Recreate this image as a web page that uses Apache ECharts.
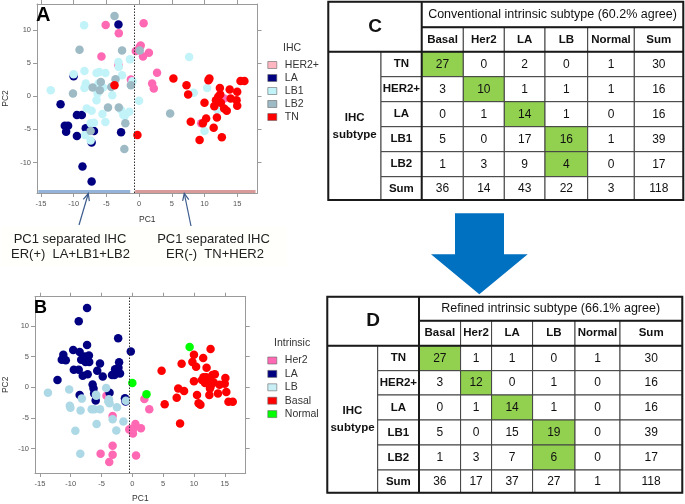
<!DOCTYPE html>
<html>
<head>
<meta charset="utf-8">
<script src="https://cdn.jsdelivr.net/npm/echarts@6/dist/echarts.min.js"></script>
<style>html,body{margin:0;padding:0;background:#fff}#c{width:685px;height:504px}</style>
</head>
<body>
<div id="c"></div>
<script>
// ---------------- DATA ----------------
// Panel A: PCA coloured by IHC subtype [PC1, PC2]
const ihcHER2 = [[-5.1,10.75],[-3.1,9.5],[0.7,11],[-5.75,6],[-3.15,4.65],[-1.25,2.5],[0.25,7.65],[-0.5,6.8],[0.6,6.0],[1.5,6.55],[2.75,3.55],[2.0,1.9],[2.25,1.15],[13,-0.35],[9.5,-4.1],[0.1,7.4]];
const ihcLA = [[-3.15,10.8],[-10,3.0],[-12,-1.2],[-9.5,-2.85],[-8.75,-2.85],[-11.35,-4.45],[-10.85,-4.45],[-11.15,-5.35],[-9.5,-6.0],[-8.15,-4.85],[-6.9,-5.25],[-7.25,-7.0],[-2.75,-5.45],[-8.65,-10.6],[-7.25,-12.85]];
const ihcLB1 = [[-13.5,0.9],[-8.4,10.7],[-10,3.3],[-8.35,3.8],[-8.15,1.9],[-8.35,1.25],[-6.5,3.5],[-6.1,3.65],[-5.15,3.5],[-6.35,0.4],[-6.5,-0.6],[-5.5,1.3],[-4.1,0.15],[-3.15,5.15],[-1.4,5.55],[-2.6,3.15],[-1.0,2.25],[0,-0.7],[-8,-1.85],[-7.25,-2.2],[-5.6,-2.7],[-5.15,-3.9],[-7.4,-4.1],[-6.9,-4.0],[-8.25,-5.85],[-7.4,-6.7],[-2.75,-2.1],[-2.4,-2.85],[-1.5,-2.35],[-2.2,-3.0],[7.65,5.9],[8.35,0.5],[10.4,1.25],[10,-5.25],[12,-2.1],[-3.1,4.4],[-6.2,1.9]];
const ihcLB2 = [[-3.75,12.1],[-9.1,7.0],[-2.6,6.9],[0.1,6.9],[-10.1,0.4],[-7.1,1.3],[-5.85,2.15],[-6,0.9],[-4.25,1.4],[-3.6,2.55],[-1.25,1.65],[-4.75,-1.7],[-3.1,-1.7],[-2.1,-4.1],[-7.4,-5.25],[-2.25,-7.95],[4.75,-2.6]];
const ihcTN = [[-3.75,1.65],[-0.25,-5.85],[5.25,2.65],[7.25,1.65],[7.5,0.25],[10.75,2.65],[12.35,1.25],[12.4,0.25],[13.85,1.0],[15,0.65],[15.5,2.3],[16.1,2.3],[14,-0.35],[14.9,-0.6],[15,-1.45],[10,-1.0],[11.75,-0.6],[11.5,-1.5],[12.5,-1.0],[13,-1.85],[13.4,-2.2],[10.25,-3.35],[11.9,-3.2],[7.9,-3.85],[9.75,-4.1],[11.4,-4.75],[12.65,-6.2],[9.25,-6.6],[12.1,-0.1],[10.6,2.4]];

// Panel B: PCA coloured by refined intrinsic subtype
const intHer2 = [[-4.2,-1.4],[-3.2,-4.7],[-5.15,-10.85],[-3.2,-9.55],[-3.2,-11.0],[-3.75,-12.2],[-0.5,-6.9],[0.1,-7.55],[0.5,-6.0],[1.4,-6.7],[1.95,-1.9],[2.75,-3.6],[0.6,-11.15],[0.1,-6.9],[-0.3,-6.8]];
const intLA = [[-7.35,12.95],[-8.7,10.8],[-2.3,8.0],[-0.25,5.85],[-12.15,1.2],[-11.2,5.3],[-11.45,4.5],[-10.8,4.4],[-9.6,6.1],[-8.55,5.75],[-7.75,5.05],[-7.05,5.2],[-7.35,6.9],[-8.3,4.5],[-7.6,4.15],[-7.0,4.15],[-9.5,2.85],[-8.7,2.85],[-8.05,1.9],[-7.25,2.15],[-5.7,2.7],[-5.25,3.9],[-4.8,1.75],[-6.45,0.45],[-6.3,-0.2],[-8.55,-1.25],[-5.95,-2.15],[-3.7,-0.9],[-2.8,2.95],[-2.15,4.1],[-2.25,3.2],[-3.3,2.0],[-2.9,2.0],[-2.0,2.25],[-1.2,-1.8],[-1.1,-2.3],[-6.2,-1.0]];
const intLB = [[-13.7,-0.9],[-10.25,-0.35],[-10.15,-3.0],[-10.05,-3.35],[-8.4,-3.8],[-8.2,-1.85],[-9.25,-7.1],[-8.45,-10.85],[-5.85,-1.4],[-6.6,-3.6],[-6.2,-3.6],[-5.25,-3.6],[-5.8,-6.0],[-4.25,-0.1],[-3.8,-1.95],[-3.7,-2.6],[-2.5,-3.25],[-3.2,-5.2],[-1.45,-5.6],[-2.6,-7.05],[-1.05,-2.2],[-5.9,-1.2],[-3.9,-2.3]];
const intBasal = [[12.7,6.25],[10.0,5.3],[11.5,4.8],[8.0,3.85],[9.75,4.15],[10.35,3.35],[12.05,3.2],[4.75,2.7],[13.4,2.15],[13.0,2.0],[11.55,1.65],[10,1.0],[12.0,1.65],[11.8,0.7],[12.5,1.1],[12.7,0.15],[14.15,0.4],[15.1,1.5],[15.0,0.6],[12.6,-0.2],[12.5,-1.25],[13.9,-1.0],[15.25,-0.75],[7.45,-0.2],[8.4,-0.6],[7.2,-1.7],[10.5,-1.25],[10.75,-2.6],[11.05,-2.85],[5.25,-2.75],[15.6,-2.35],[16.3,-2.35],[7.75,-5.9],[11.3,1.2],[13.2,0.8]];
const intNormal = [[9.3,6.6],[0,0.7],[2.3,-1.15]];

const pc1Ticks = [-15,-10,-5,0,5,10,15];
const pc2Ticks = [-10,-5,0,5,10];
const pc1SplitA = -0.75, pc1SplitB = -0.45;

// Tables C and D
const tableCols = ['Basal','Her2','LA','LB','Normal','Sum'];
const ihcRows = ['TN','HER2+','LA','LB1','LB2','Sum'];
const conventional = [[27,0,2,0,1,30],[3,10,1,1,1,16],[0,1,14,1,0,16],[5,0,17,16,1,39],[1,3,9,4,0,17],[36,14,43,22,3,118]];
const refined = [[27,1,1,0,1,30],[3,12,0,1,0,16],[0,1,14,1,0,16],[5,0,15,19,0,39],[1,3,7,6,0,17],[36,17,37,27,1,118]];
const agreeCells = [[0,0],[1,1],[2,2],[3,3],[4,3]]; // [row, col]

// ---------------- LAYOUT ----------------
const FONT = 'Liberation Sans, Arial, sans-serif';
const gridA = {left:32.3, top:4, width:225.2, height:189};
const gridB = {left:29.3, top:296.7, width:216.4, height:182.3};
const rangeA = {x:[-15.6,18.1], y:[-14.6,13.9]};
const rangeB = {x:[-15.8,18.4], y:[-14.0,14.8]};
const tabC = {left:328.3, top:1.7, width:355, height:198.3,
  cols:[0,52.7,93.4,135,176,216.7,259.4,306,355], rows:[0,25.6,50,75,100,125,150,175,198.3]};
const tabD = {left:327.3, top:296.7, width:355, height:196,
  cols:[0,50.4,91.7,133.3,164.3,205.3,247.7,292.7,355], rows:[0,24,49,74,98.3,123.3,148.3,173.3,196]};

const frameColor = '#9a9a9a';

function plotAxes(gi, range, nameGapX, nameGapY) {
  const tickCommon = {show:true, inside:false, length:4, lineStyle:{color:frameColor, width:1}};
  const lineCommon = {show:true, onZero:false, lineStyle:{color:frameColor, width:1}};
  return {
    x: [
      {gridIndex:gi, type:'value', position:'bottom', min:range.x[0], max:range.x[1],
       axisLine:lineCommon, axisTick:Object.assign({customValues:pc1Ticks}, tickCommon),
       axisLabel:{customValues:pc1Ticks, fontSize:7.5, color:'#555', margin:7, fontFamily:FONT},
       splitLine:{show:false}, name:'PC1', nameLocation:'middle', nameGap:nameGapX,
       nameTextStyle:{fontSize:8.5, color:'#333', fontFamily:FONT}},
      {gridIndex:gi, type:'value', position:'top', min:range.x[0], max:range.x[1],
       axisLine:lineCommon, axisTick:Object.assign({customValues:pc1Ticks}, tickCommon),
       axisLabel:{show:false}, splitLine:{show:false}}
    ],
    y: [
      {gridIndex:gi, type:'value', position:'left', min:range.y[0], max:range.y[1],
       axisLine:lineCommon, axisTick:Object.assign({customValues:pc2Ticks}, tickCommon),
       axisLabel:{customValues:pc2Ticks, fontSize:7.5, color:'#555', margin:6, fontFamily:FONT},
       splitLine:{show:false}, name:'PC2', nameLocation:'middle', nameGap:nameGapY,
       nameTextStyle:{fontSize:8.5, color:'#333', fontFamily:FONT}},
      {gridIndex:gi, type:'value', position:'right', min:range.y[0], max:range.y[1],
       axisLine:lineCommon, axisTick:Object.assign({customValues:pc2Ticks}, tickCommon),
       axisLabel:{show:false}, splitLine:{show:false}}
    ]
  };
}

const axA = plotAxes(0, rangeA, 22, 27);
const axB = plotAxes(1, rangeB, 21, 25);

function tableAxes(gi) {
  return {
    x:{gridIndex:gi, type:'value', min:0, max:355, show:false},
    y:{gridIndex:gi, type:'value', min:0, max:200, inverse:true, show:false}
  };
}
const axC = tableAxes(2), axD = tableAxes(3);
axC.y.max = tabC.height; axD.y.max = tabD.height;

const xAxes = [axA.x[0], axA.x[1], axB.x[0], axB.x[1], axC.x, axD.x];
const yAxes = [axA.y[0], axA.y[1], axB.y[0], axB.y[1], axC.y, axD.y];

function scatter(name, data, color, xi, yi, extra) {
  return Object.assign({
    type:'scatter', name, data, xAxisIndex:xi, yAxisIndex:yi,
    symbol:'circle', symbolSize:8.5, itemStyle:{color, opacity:1}, emphasis:{disabled:true}
  }, extra || {});
}

function vline(x) {
  return {silent:true, symbol:'none', label:{show:false},
    lineStyle:{color:'#333', type:[1.5,1.5], width:1}, data:[{xAxis:x}]};
}

// Tables
const BOLD = 'bold 11.5px ' + FONT;
const NUM = '12px ' + FONT;
function buildCells(letter, title, matrix) {
  const cells = [];
  cells.push({c:[0,2], r:[0,2], text:letter, font:'bold 19px ' + FONT});
  cells.push({c:[2,8], r:[0,1], text:title, font:'12.5px ' + FONT});
  tableCols.forEach((n, j) => cells.push({c:[2+j,3+j], r:[1,2], text:n, font:BOLD}));
  cells.push({c:[0,1], r:[2,8], text:'IHC\nsubtype', font:BOLD});
  ihcRows.forEach((n, i) => {
    cells.push({c:[1,2], r:[2+i,3+i], text:n, font:BOLD});
    matrix[i].forEach((v, j) => {
      const agree = agreeCells.some(a => a[0] === i && a[1] === j);
      cells.push({c:[2+j,3+j], r:[2+i,3+i], text:String(v), font:NUM, fill: agree ? '#92D050' : '#fff'});
    });
  });
  cells.push({frame:true, c:[0,8], r:[0,8]});
  return cells;
}

function tableSeries(cells, lay, xi, yi) {
  return {
    type:'custom', xAxisIndex:xi, yAxisIndex:yi, clip:false, silent:true,
    data: cells.map(c => [c.c[0], c.r[0]]),
    renderItem: function (params, api) {
      const cell = cells[params.dataIndex];
      const P = (ci, ri) => api.coord([lay.cols[ci], lay.rows[ri]]);
      if (cell.frame) {
        const tl = P(0,0), br = P(8,8);
        const l = (a, b) => ({type:'line', shape:{x1:a[0], y1:a[1], x2:b[0], y2:b[1]}, style:{stroke:'#1a1a1a', lineWidth:2}});
        return {type:'group', children:[
          {type:'rect', shape:{x:tl[0], y:tl[1], width:br[0]-tl[0], height:br[1]-tl[1]}, style:{fill:'none', stroke:'#1a1a1a', lineWidth:2}},
          l(P(0,2), P(8,2)),
          l(P(2,1), P(8,1)),
          l(P(2,0), P(2,8))
        ]};
      }
      const p0 = P(cell.c[0], cell.r[0]);
      const p1 = P(cell.c[1], cell.r[1]);
      return {type:'group', children:[
        {type:'rect', shape:{x:p0[0], y:p0[1], width:p1[0]-p0[0], height:p1[1]-p0[1]},
         style:{fill:cell.fill || '#fff', stroke:'#404040', lineWidth:1}},
        {type:'text', style:{x:(p0[0]+p1[0])/2, y:(p0[1]+p1[1])/2, text:cell.text, font:cell.font,
         fill:'#111', align:'center', verticalAlign:'middle', lineHeight:17}}
      ]};
    }
  };
}

function arrow(x0, y0, x1, y1) {
  const dx = x1 - x0, dy = y1 - y0, L = Math.hypot(dx, dy);
  const ux = dx / L, uy = dy / L, a = 7, s = 0.45;
  const bx = x1 - ux * a, by = y1 - uy * a;
  const px = -uy * a * s, py = ux * a * s;
  const st = {stroke:'#3b5c8c', lineWidth:1.2, fill:'none'};
  return [
    {type:'line', shape:{x1:x0, y1:y0, x2:x1, y2:y1}, style:st, z:50},
    {type:'polyline', shape:{points:[[bx+px, by+py],[x1, y1],[bx-px, by-py]]}, style:st, z:50}
  ];
}

const annText = {fontSize:13, fill:'#222', fontFamily:FONT, align:'center', verticalAlign:'middle'};

const option = {
  animation:false,
  backgroundColor:'#fff',
  grid:[
    Object.assign({containLabel:false}, gridA),
    Object.assign({containLabel:false}, gridB),
    {left:tabC.left, top:tabC.top, width:tabC.width, height:tabC.height},
    {left:tabD.left, top:tabD.top, width:tabD.width, height:tabD.height}
  ],
  xAxis: xAxes,
  yAxis: yAxes,
  title:[
    {text:'A', left:36, top:5, padding:0, textStyle:{fontSize:20, fontWeight:'bold', color:'#000', fontFamily:FONT}},
    {text:'B', left:34, top:299, padding:0, textStyle:{fontSize:18, fontWeight:'bold', color:'#000', fontFamily:FONT}},
    {text:'IHC', left:283, top:43, padding:0, textStyle:{fontSize:10.5, fontWeight:'normal', color:'#333', fontFamily:FONT}},
    {text:'Intrinsic', left:274, top:338, padding:0, textStyle:{fontSize:10.5, fontWeight:'normal', color:'#333', fontFamily:FONT}}
  ],
  legend:[
    {orient:'vertical', left:267.5, top:59, padding:0, itemGap:1, itemWidth:9, itemHeight:7, icon:'rect',
     textStyle:{fontSize:10.5, color:'#333', fontFamily:FONT, lineHeight:12, padding:[0,0,0,3]},
     selectedMode:false,
     data:[
       {name:'HER2+', itemStyle:{color:'#FFB6C1', borderColor:'#666', borderWidth:0.6}},
       {name:'LA', itemStyle:{color:'#000080', borderColor:'#666', borderWidth:0.6}},
       {name:'LB1', itemStyle:{color:'#C2F3F9', borderColor:'#666', borderWidth:0.6}},
       {name:'LB2', itemStyle:{color:'#9DBAC5', borderColor:'#666', borderWidth:0.6}},
       {name:'TN', itemStyle:{color:'#FF0000', borderColor:'#666', borderWidth:0.6}}
     ]},
    {orient:'vertical', left:267.5, top:354.5, padding:0, itemGap:1.4, itemWidth:9, itemHeight:7, icon:'rect',
     textStyle:{fontSize:10.5, color:'#333', fontFamily:FONT, lineHeight:12, padding:[0,0,0,3]},
     selectedMode:false,
     data:[
       {name:'Her2', itemStyle:{color:'#FF69B4', borderColor:'#666', borderWidth:0.6}},
       {name:'LA', itemStyle:{color:'#000080', borderColor:'#666', borderWidth:0.6}},
       {name:'LB', itemStyle:{color:'#C8EEF6', borderColor:'#666', borderWidth:0.6}},
       {name:'Basal', itemStyle:{color:'#FF0000', borderColor:'#666', borderWidth:0.6}},
       {name:'Normal', itemStyle:{color:'#00FF00', borderColor:'#666', borderWidth:0.6}}
     ]}
  ],
  series:[
    scatter('HER2+', ihcHER2, '#FF69B4', 0, 0, {markLine: vline(pc1SplitA)}),
    scatter('LA', ihcLA, '#000080', 0, 0),
    scatter('LB1', ihcLB1, '#C2F3F9', 0, 0),
    scatter('LB2', ihcLB2, '#9DBAC5', 0, 0),
    scatter('TN', ihcTN, '#FF0000', 0, 0, {
      markLine:{silent:true, symbol:'none', label:{show:false}, data:[
        [{coord:[-15.4,-14.3], lineStyle:{color:'#94B3D8', width:3, type:'solid'}}, {coord:[-1.35,-14.3]}],
        [{coord:[-0.6,-14.3], lineStyle:{color:'#D99A9A', width:3, type:'solid'}}, {coord:[17.8,-14.3]}]
      ]}
    }),
    scatter('Her2', intHer2, '#FF69B4', 2, 2, {markLine: vline(pc1SplitB)}),
    scatter('LA', intLA, '#000080', 2, 2),
    scatter('LB', intLB, '#ADD8E6', 2, 2),
    scatter('Basal', intBasal, '#FF0000', 2, 2),
    scatter('Normal', intNormal, '#00FF00', 2, 2),
    tableSeries(buildCells('C', 'Conventional intrinsic subtype (60.2% agree)', conventional), tabC, 4, 4),
    tableSeries(buildCells('D', 'Refined intrinsic subtype (66.1% agree)', refined), tabD, 5, 5)
  ],
  graphic:[
    {type:'rect', shape:{x:1, y:226, width:142, height:40}, style:{fill:'#FFFFFB'}, z:-1, silent:true},
    {type:'rect', shape:{x:143, y:226, width:144, height:40}, style:{fill:'#FFFFFB'}, z:-1, silent:true},
    ...arrow(79, 225, 88.3, 193.5),
    ...arrow(191, 226, 184.3, 193.5),
    {type:'text', style:Object.assign({x:70, y:239.5, text:'PC1 separated IHC'}, annText)},
    {type:'text', style:Object.assign({x:70.5, y:254, text:'ER(+)  LA+LB1+LB2'}, annText)},
    {type:'text', style:Object.assign({x:213.5, y:239.5, text:'PC1 separated IHC'}, annText)},
    {type:'text', style:Object.assign({x:215, y:254, text:'ER(-)  TN+HER2'}, annText)},
    {type:'polygon', shape:{points:[[455,213.3],[504,213.3],[504,254.3],[527.7,254.3],[479.3,294.3],[431,254.3],[455,254.3]]},
     style:{fill:'#0070C0'}, silent:true}
  ]
};

const chart = echarts.init(document.getElementById('c'), null, {renderer:'canvas'});
chart.setOption(option);
</script>
</body>
</html>
